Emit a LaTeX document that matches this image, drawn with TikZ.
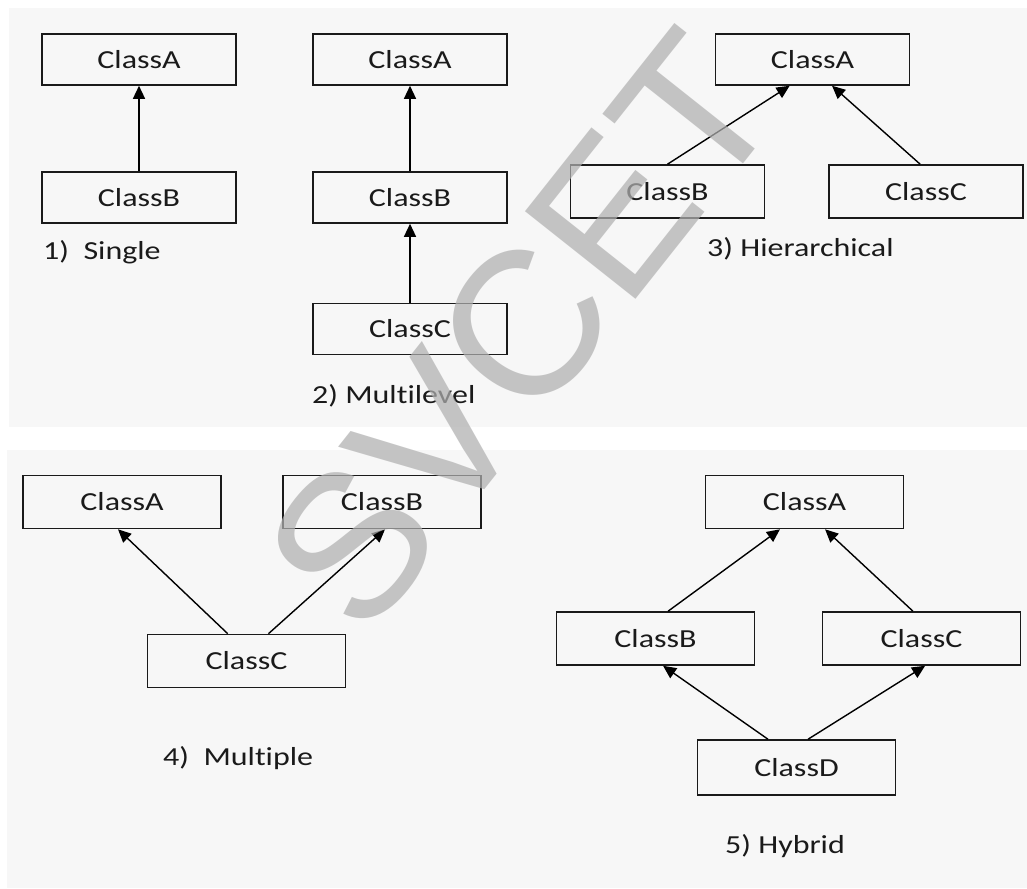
\documentclass[tikz,border=0pt]{standalone}
\usepackage{fontspec}
\setmainfont{Carlito}[FakeStretch=1.23, Ligatures={NoCommon}]
\newfontfamily\wmfont{Liberation Sans}
\usetikzlibrary{arrows.meta,calc}
\definecolor{panelgray}{HTML}{F7F7F7}
\definecolor{inkcol}{HTML}{1A1A1A}
\definecolor{wmcol}{HTML}{B0B0B0}
\begin{document}
\begin{tikzpicture}[x=1pt,y=-1pt,
  cls/.style={draw=inkcol, line width=1.6pt, minimum width=194pt, minimum height=51pt,
    inner sep=0pt, font=\fontsize{26}{30}\selectfont, text=inkcol},
  wide/.style={minimum width=198pt, minimum height=53pt},
  inh/.style={draw=black, line width=1.4pt, -{Triangle[length=13pt,width=12pt]}},
  lbl/.style={anchor=base west, inner sep=0pt, font=\fontsize{26}{30}\selectfont, text=inkcol},
  wm/.style={inner sep=0pt, text=wmcol, text opacity=0.72,
    font=\wmfont\fontsize{205}{205}\selectfont}]
\useasboundingbox (0,0) rectangle (1027,888);
\fill[white] (0,0) rectangle (1027,888);
% panels
\fill[panelgray] (9,8) rectangle (1027,427);
\fill[panelgray] (7,450) rectangle (1027,888);

% 1) Single
\node[cls] (p1a) at (139,59.5) {ClassA};
\node[cls] (p1b) at (139,197.5) {ClassB};
\draw[inh] (p1b.north) -- (p1a.south);
\node[lbl] (l1) at (43,259) {1)\ \ Single};

% 2) Multilevel
\node[cls] (p2a) at (410,59.5) {ClassA};
\node[cls] (p2b) at (410,197.5) {ClassB};
\node[cls] (p2c) at (410,329) {ClassC};
\draw[inh] (p2b.north) -- (p2a.south);
\draw[inh] (p2c.north) -- (p2b.south);
\node[lbl] (l2) at (312,403) {2) Multilevel};

% 3) Hierarchical
\node[cls] (p3a) at (812.5,59.5) {ClassA};
\node[cls, minimum height=53pt] (p3b) at (667.5,191.5) {ClassB};
\node[cls, minimum height=53pt] (p3c) at (926,191.5) {ClassC};
\draw[inh] (p3b.north) -- ($(p3a.south west)!0.383!(p3a.south east)$);
\draw[inh] ($(p3c.north west)!0.47!(p3c.north east)$) -- ($(p3a.south west)!0.60!(p3a.south east)$);
\node[lbl] (l3) at (707,256) {3) Hierarchical};

% 4) Multiple
\node[cls, wide] (p4a) at (122,502) {ClassA};
\node[cls, wide] (p4b) at (382,502) {ClassB};
\node[cls, wide] (p4c) at (246.5,661) {ClassC};
\draw[inh] ($(p4c.north west)!0.406!(p4c.north east)$) -- ($(p4a.south west)!0.48!(p4a.south east)$);
\draw[inh] ($(p4c.north west)!0.61!(p4c.north east)$) -- ($(p4b.south west)!0.515!(p4b.south east)$);
\node[lbl] (l4) at (163,765) {4)\ \ Multiple};

% 5) Hybrid
\node[cls, wide] (p5a) at (804.5,502) {ClassA};
\node[cls, wide] (p5b) at (655.5,638.5) {ClassB};
\node[cls, wide] (p5c) at (921.5,638.5) {ClassC};
\node[cls, wide, minimum height=55pt] (p5d) at (796.5,767.5) {ClassD};
\draw[inh] ($(p5b.north west)!0.563!(p5b.north east)$) -- ($(p5a.south west)!0.377!(p5a.south east)$);
\draw[inh] ($(p5c.north west)!0.457!(p5c.north east)$) -- ($(p5a.south west)!0.603!(p5a.south east)$);
\draw[inh] ($(p5d.north west)!0.357!(p5d.north east)$) -- ($(p5b.south west)!0.538!(p5b.south east)$);
\draw[inh] ($(p5d.north west)!0.558!(p5d.north east)$) -- ($(p5c.south west)!0.518!(p5c.south east)$);
\node[lbl] (l5) at (725,853) {5) Hybrid};

% watermark
\node[wm, rotate=51.6] (wmark) at (521,331) {SVCET};
\end{tikzpicture}
\end{document}
